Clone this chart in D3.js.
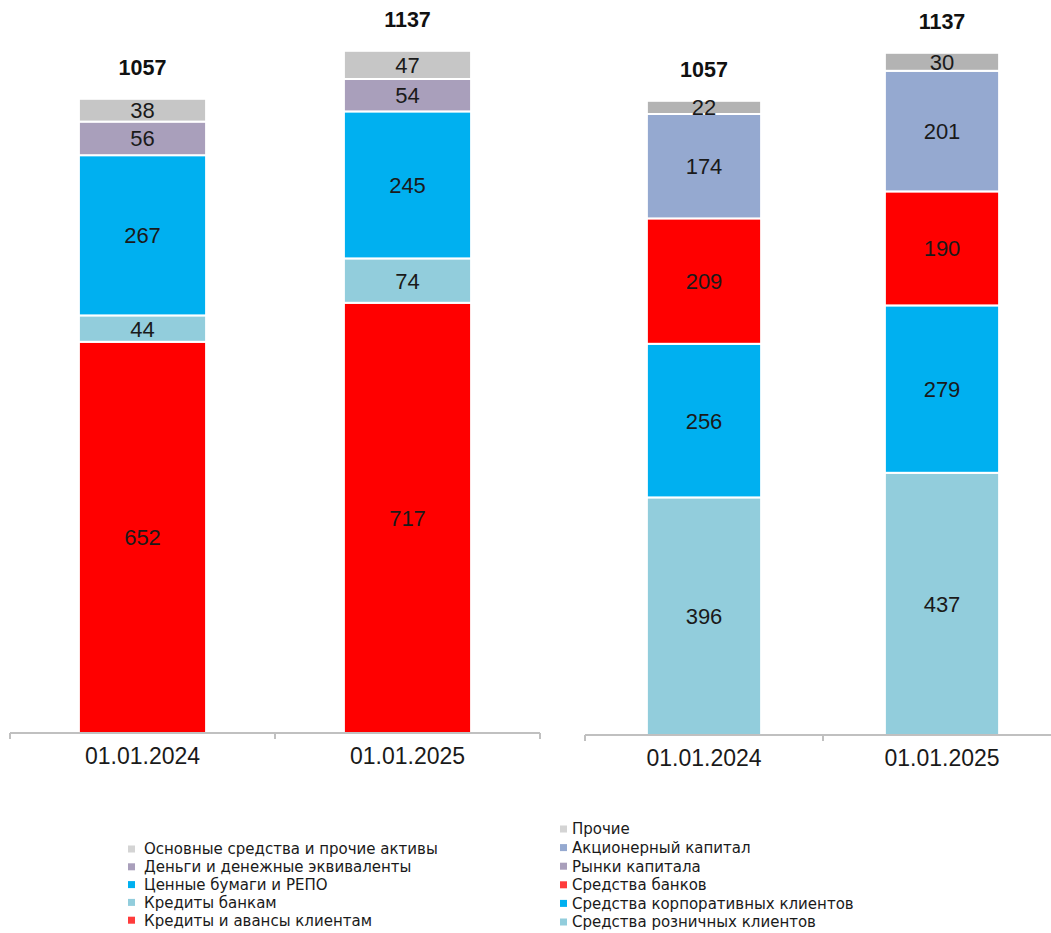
<!DOCTYPE html>
<html><head><meta charset="utf-8">
<script src="https://cdn.jsdelivr.net/npm/d3@7"></script>
<style>body{margin:0;background:#fff}svg{display:block}</style>
</head><body>
<svg id="c" width="1051" height="933"></svg>
<script>
const dates = ["01.01.2024", "01.01.2025"];

const assetSeries = ["Кредиты и авансы клиентам", "Кредиты банкам", "Ценные бумаги и РЕПО", "Деньги и денежные эквиваленты", "Основные средства и прочие активы"];
const assetColors = ["#ff0000", "#92cddc", "#00b0f0", "#a99fbb", "#c6c6c6"];
const assetLegendColors = ["#ff3b3b", "#92cddc", "#00b0f0", "#a99fbb", "#d4d4d4"];
const assetLoans = [652, 717];
const assetBanks = [44, 74];
const assetSecurities = [267, 245];
const assetCash = [56, 54];
const assetOther = [38, 47];
const assetTotals = [1057, 1137];

const liabSeries = ["Средства розничных клиентов", "Средства корпоративных клиентов", "Средства банков", "Рынки капитала", "Акционерный капитал", "Прочие"];
const liabColors = ["#92cddc", "#00b0f0", "#ff0000", "#a99fbb", "#95a9d0", "#b3b3b3"];
const liabLegendColors = ["#92cddc", "#00b0f0", "#ff3b3b", "#a99fbb", "#95a9d0", "#d4d4d4"];
const liabRetail = [396, 437];
const liabCorporate = [256, 279];
const liabBanks = [209, 190];
const liabMarkets = [0, 0];
const liabEquity = [174, 201];
const liabOther = [22, 30];
const liabTotals = [1057, 1137];

const svg = d3.select("#c");
const numFont = "Liberation Sans, Arial, sans-serif";

function drawPanel(cfg) {
  const g = svg.append("g");
  const x = d3.scaleBand().domain(dates).range(cfg.xRange).paddingInner(0.52).paddingOuter(0.26);
  const y = d3.scaleLinear().domain([0, 1000]).range([cfg.base, cfg.base - 600]);
  const rows = dates.map((d, i) => {
    const o = {date: d};
    cfg.series.forEach((s, k) => o[s] = cfg.values[k][i]);
    return o;
  });
  const stack = d3.stack().keys(cfg.series)(rows);
  stack.forEach((layer, k) => {
    layer.forEach(seg => {
      const v = seg[1] - seg[0];
      if (v <= 0) return;
      const y0 = y(seg[0]), y1 = y(seg[1]);
      g.append("rect")
        .attr("x", x(seg.data.date)).attr("width", x.bandwidth())
        .attr("y", y1).attr("height", y0 - y1)
        .attr("fill", cfg.colors[k])
        .attr("stroke", "#fff").attr("stroke-width", 2);
      g.append("text")
        .attr("x", x(seg.data.date) + x.bandwidth() / 2)
        .attr("y", (y0 + y1) / 2)
        .attr("dy", "0.36em")
        .attr("text-anchor", "middle")
        .attr("font-family", numFont)
        .attr("font-size", 22).attr("fill", "#1a1a1a")
        .text(v);
    });
  });
  dates.forEach((d, i) => {
    g.append("text")
      .attr("x", x(d) + x.bandwidth() / 2)
      .attr("y", y(cfg.totals[i]) - 24)
      .attr("text-anchor", "middle")
      .attr("font-family", numFont)
      .attr("font-weight", "bold")
      .attr("font-size", 21.5).attr("fill", "#111")
      .text(cfg.totals[i]);
  });
  // axis
  const ax = g.append("g").attr("transform", `translate(0,${cfg.base})`);
  ax.append("line").attr("x1", cfg.xRange[0]).attr("x2", cfg.lineEnd)
    .attr("stroke", "#c0c0c0").attr("stroke-width", 2);
  const tickXs = [cfg.xRange[0], ...dates.slice(1).map(d => x(d) - x.step() * x.paddingInner() / 2), cfg.xRange[1]];
  tickXs.forEach(t => {
    ax.append("line").attr("x1", t).attr("x2", t).attr("y1", 0).attr("y2", 6)
      .attr("stroke", "#c0c0c0").attr("stroke-width", 2);
  });
  dates.forEach(d => {
    ax.append("text")
      .attr("x", x(d) + x.bandwidth() / 2).attr("y", 31)
      .attr("text-anchor", "middle")
      .attr("font-family", numFont)
      .attr("font-size", 23).attr("fill", "#1a1a1a")
      .text(d);
  });
  // legend (reverse order, top = last series)
  const lg = g.append("g");
  const order = cfg.series.map((s, k) => k).reverse();
  order.forEach((k, r) => {
    const yy = cfg.legendY + r * cfg.legendStep;
    lg.append("rect").attr("x", cfg.legendX).attr("y", yy - 3.5).attr("width", 7).attr("height", 7)
      .attr("fill", cfg.legendColors[k]);
    lg.append("text").attr("x", cfg.textX).attr("y", yy).attr("dy", "0.36em")
      .attr("font-family", "DejaVu Sans, sans-serif")
      .attr("font-size", 15).attr("fill", "#1a1a1a")
      .text(cfg.series[k]);
  });
}

drawPanel({
  xRange: [10, 540], lineEnd: 540, base: 733,
  series: assetSeries, colors: assetColors, legendColors: assetLegendColors,
  values: [assetLoans, assetBanks, assetSecurities, assetCash, assetOther],
  totals: assetTotals,
  legendX: 128, textX: 144, legendY: 849, legendStep: 17.8
});
drawPanel({
  xRange: [585, 1061], lineEnd: 1061, base: 735,
  series: liabSeries, colors: liabColors, legendColors: liabLegendColors,
  values: [liabRetail, liabCorporate, liabBanks, liabMarkets, liabEquity, liabOther],
  totals: liabTotals,
  legendX: 560, textX: 572, legendY: 829, legendStep: 18.6
});
</script>
</body></html>
